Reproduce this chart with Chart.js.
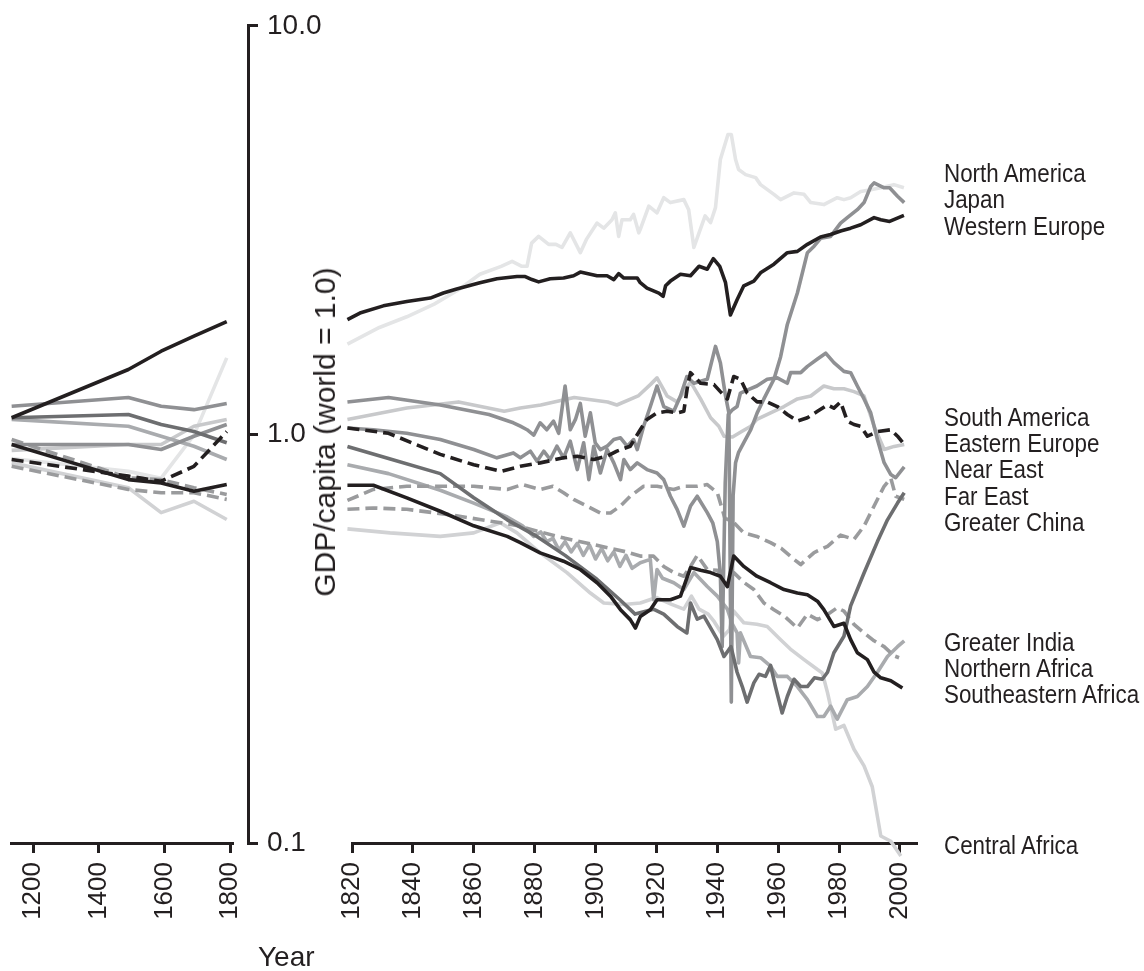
<!DOCTYPE html>
<html>
<head>
<meta charset="utf-8">
<script src="https://cdn.jsdelivr.net/npm/chart.js@4.4.1/dist/chart.umd.min.js"></script>
<style>
html,body{margin:0;padding:0;background:#ffffff;}
#wrap{position:relative;width:1144px;height:971px;overflow:hidden;background:#fff;}
#wrap canvas{position:absolute;left:0;top:0;}
.lab{position:absolute;left:944px;font-family:"Liberation Sans",Arial,sans-serif;font-size:26px;line-height:26px;color:#231f20;white-space:nowrap;transform-origin:0 50%;transform:scaleX(0.86);}
#ytitle{position:absolute;left:325px;top:432px;font-family:"Liberation Sans",Arial,sans-serif;font-size:30px;line-height:30px;color:#231f20;white-space:nowrap;transform:translate(-50%,-50%) rotate(-90deg);}
#xtitle{position:absolute;left:258px;top:943px;font-family:"Liberation Sans",Arial,sans-serif;font-size:28px;line-height:28px;color:#231f20;}
</style>
</head>
<body>
<div id="wrap">
  <canvas id="cLeft" width="1144" height="971"></canvas>
  <canvas id="cRight" width="1144" height="971"></canvas>
  <canvas id="cAxis" width="1144" height="971"></canvas>
  <div id="ytitle">GDP/capita (world = 1.0)</div>
  <div id="xtitle">Year</div>
</div>
<script>
// ---------- tick values ----------
const yTickValues = [0.1, 1, 10];
const earlyTickYears = [1200, 1400, 1600, 1800];
const modernTickYears = [1820, 1840, 1860, 1880, 1900, 1920, 1940, 1960, 1980, 2000];

// ---------- region labels (right side, top to bottom) ----------
const regionLabels = ["North America","Japan","Western Europe","South America","Eastern Europe","Near East","Far East","Greater China","Greater India","Northern Africa","Southeastern Africa","Central Africa"];

// ---------- early panel ----------
const earlyYears = [1134, 1490, 1590, 1690, 1790];
const westernEuropeEarly      = [1.08, 1.415, 1.567, 1.705, 1.85];
const northAmericaEarly       = [0.86, 0.80, 0.77, 0.98, 1.51];
const japanEarly              = [1.152, 1.21, 1.152, 1.13, 1.17];
const southAmericaEarly       = [0.90, 0.93, 0.93, 1.03, 1.07];
const easternEuropeEarly      = [0.855, 0.779, 0.757, 0.823, 1.0];
const nearEastEarly           = [0.93, 0.93, 0.904, 0.974, 1.04];
const farEastEarly            = [0.956, 0.772, 0.764, 0.73, 0.703];
const greaterChinaEarly       = [1.08, 1.10, 1.04, 1.0, 0.939];
const greaterIndiaEarly       = [1.07, 1.03, 0.974, 0.921, 0.855];
const northernAfricaEarly     = [0.93, 0.764, 0.75, 0.716, 0.743];
const southeasternAfricaEarly = [0.823, 0.723, 0.71, 0.71, 0.684];
const centralAfricaEarly      = [0.839, 0.73, 0.635, 0.677, 0.611];

// ---------- modern panel: [year, GDP per capita relative to world] ----------
const westernEurope = [[1818.5,1.87],[1822.6,1.94],[1830.3,2.02],[1838,2.07],[1845.7,2.11],[1850,2.17],[1854.4,2.22],[1862,2.30],[1867.6,2.35],[1874.2,2.38],[1876.9,2.38],[1879.1,2.34],[1881.3,2.31],[1885.1,2.35],[1889.5,2.36],[1892.8,2.39],[1895,2.44],[1897.2,2.42],[1900.5,2.39],[1903.8,2.39],[1906,2.34],[1907.6,2.42],[1909.3,2.36],[1913.7,2.36],[1914.7,2.30],[1916.9,2.23],[1920.8,2.17],[1922.2,2.13],[1923,2.26],[1924.6,2.32],[1927.9,2.41],[1931.2,2.39],[1934,2.52],[1936.7,2.48],[1938.7,2.63],[1940.8,2.52],[1942.7,2.30],[1944.3,1.92],[1946.5,2.09],[1948.7,2.26],[1952,2.32],[1954.2,2.43],[1958.6,2.55],[1963,2.72],[1966.3,2.74],[1969.6,2.85],[1973.9,2.97],[1977.2,3.01],[1980.5,3.07],[1983.8,3.12],[1987.1,3.18],[1991.5,3.31],[1993.7,3.27],[1996.6,3.24],[2001.3,3.35]];
const northAmerica = [[1818.5,1.63],[1829,1.79],[1838,1.90],[1847,2.04],[1855,2.21],[1862,2.41],[1869,2.52],[1872.6,2.59],[1875.8,2.52],[1877.5,2.52],[1879,2.87],[1881.3,2.98],[1884.6,2.85],[1887,2.85],[1889,2.80],[1891.7,3.04],[1895,2.72],[1897,2.93],[1900.5,3.21],[1902.7,3.12],[1905.4,3.27],[1906.5,3.40],[1907.6,2.98],[1908.7,3.27],[1911.4,3.27],[1912.5,3.37],[1914.2,3.04],[1914.7,3.10],[1917.5,3.53],[1920.2,3.40],[1922.4,3.70],[1924.6,3.60],[1929,3.66],[1930.6,3.46],[1932.3,2.80],[1934,3.04],[1936,3.34],[1937.8,3.22],[1939.4,3.50],[1941,4.58],[1943.5,5.27],[1944.6,5.27],[1946,4.58],[1947,4.33],[1949.3,4.21],[1952.6,4.14],[1954.2,3.98],[1958.6,3.77],[1960.8,3.66],[1965.2,3.80],[1968.5,3.77],[1970.7,3.60],[1975,3.56],[1979.4,3.70],[1981.6,3.66],[1983.8,3.70],[1987.1,3.83],[1990.4,3.87],[1993.7,3.91],[1998,3.98],[2001.3,3.91]];
const japan = [[1818.5,1.18],[1832,1.21],[1849,1.16],[1865,1.10],[1873,1.05],[1875.3,1.03],[1877.5,1.01],[1879.7,0.98],[1881.8,1.05],[1884,1.01],[1886.2,1.06],[1887.9,0.99],[1890,1.29],[1891.7,1.01],[1893.4,1.07],[1895,1.17],[1896.6,0.974],[1898.3,1.11],[1899.9,0.939],[1901.6,0.904],[1903.8,0.921],[1906,0.956],[1908.2,0.965],[1910.4,0.921],[1912.5,0.956],[1913.7,0.904],[1915.8,1.03],[1918,1.15],[1920.2,1.29],[1922.4,1.15],[1925.7,1.12],[1927.9,1.22],[1930,1.36],[1932.3,1.31],[1936.7,1.34],[1939.4,1.61],[1941,1.47],[1942.7,1.22],[1943.8,1.11],[1944.6,0.22],[1945.2,0.70],[1946,0.84],[1947,0.89],[1948.7,0.94],[1951,1.01],[1953.1,1.11],[1955.3,1.20],[1958.6,1.34],[1960.8,1.52],[1963,1.82],[1966.3,2.17],[1969.6,2.72],[1971.8,2.82],[1974,2.95],[1977.2,2.98],[1980.5,3.21],[1982.7,3.31],[1986,3.46],[1988.2,3.60],[1990.4,3.94],[1991.5,4.02],[1994.8,3.91],[1996.6,3.91],[1999.2,3.73],[2001.4,3.60]];
const southAmerica = [[1818.5,1.07],[1838,1.14],[1855,1.18],[1870,1.12],[1875.3,1.14],[1882,1.16],[1893,1.21],[1904,1.18],[1907,1.16],[1914,1.22],[1918,1.30],[1920.2,1.35],[1923.5,1.22],[1926.8,1.18],[1931.2,1.32],[1934.5,1.20],[1937.8,1.08],[1940.5,1.03],[1942.2,0.974],[1945,0.97],[1948,1.0],[1951,1.03],[1953,1.07],[1957.5,1.11],[1961.9,1.15],[1966.3,1.20],[1970.7,1.22],[1975,1.29],[1978.3,1.27],[1981.6,1.27],[1984.9,1.25],[1988.2,1.22],[1991.5,1.03],[1994.8,0.904],[1998.1,0.92],[2001.4,0.93]];
const easternEurope = [[1818.5,1.02],[1832,0.99],[1849,0.88],[1860,0.83],[1869,0.80],[1875.3,0.823],[1881.8,0.839],[1889.5,0.863],[1894,0.871],[1899.4,0.855],[1903.8,0.871],[1907,0.896],[1911.4,0.921],[1914.7,1.01],[1916.9,1.07],[1920.2,1.11],[1923.5,1.12],[1926.8,1.11],[1929,1.12],[1930.3,1.30],[1931.2,1.39],[1934.5,1.31],[1938.9,1.30],[1941,1.25],[1943.3,1.20],[1945.4,1.36],[1947.6,1.34],[1949.8,1.24],[1953.1,1.18],[1956.4,1.18],[1959.7,1.15],[1963,1.10],[1966.3,1.06],[1969.6,1.08],[1972.9,1.12],[1976.2,1.16],[1978.3,1.14],[1980.5,1.18],[1982.7,1.06],[1984.9,1.04],[1987.1,1.03],[1989.3,0.974],[1992.6,1.0],[1997,1.01],[1999.2,0.974],[2001.4,0.93]];
const nearEast = [[1818.5,1.02],[1827,1.01],[1838,0.99],[1849,0.956],[1860,0.904],[1867.6,0.863],[1873,0.887],[1875.3,0.863],[1878.6,0.896],[1880.8,0.847],[1883,0.896],[1885.1,0.855],[1887.3,0.921],[1889.5,0.863],[1891.7,0.947],[1894,0.808],[1896.1,0.939],[1897.8,0.764],[1899.4,0.921],[1901.6,0.793],[1903.8,0.904],[1906,0.839],[1908.2,0.764],[1909.3,0.855],[1911.4,0.808],[1913.7,0.839],[1916.9,0.808],[1920.2,0.793],[1922.4,0.764],[1924.6,0.696],[1926.8,0.647],[1929,0.589],[1931.2,0.659],[1933.4,0.696],[1936.7,0.635],[1938.5,0.60],[1940,0.54],[1941,0.45],[1941.6,0.30],[1942.6,0.75],[1943.6,1.10],[1945,1.13],[1946.5,1.15],[1947.6,1.24],[1949.8,1.26],[1953,1.29],[1956.4,1.34],[1959.7,1.35],[1963,1.31],[1964.1,1.39],[1967.4,1.39],[1969.6,1.44],[1972.9,1.50],[1975.6,1.55],[1978.3,1.47],[1981.6,1.40],[1983.8,1.39],[1986,1.29],[1988.2,1.20],[1990.4,1.11],[1992.6,0.956],[1994.8,0.84],[1997,0.786],[1998.6,0.772],[2001.4,0.82]];
const farEast = [[1818.5,0.68],[1827,0.723],[1838,0.736],[1860,0.736],[1871,0.723],[1876,0.743],[1881.8,0.723],[1886,0.736],[1889.5,0.71],[1892.8,0.684],[1897.2,0.659],[1901.6,0.634],[1904.9,0.634],[1908.2,0.659],[1911.4,0.696],[1915.8,0.736],[1920.2,0.736],[1925.7,0.723],[1929,0.736],[1933.4,0.736],[1936.7,0.743],[1940,0.71],[1942.5,0.615],[1945,0.605],[1948.7,0.567],[1953,0.556],[1957.5,0.537],[1961,0.52],[1965.2,0.489],[1967.4,0.475],[1971.8,0.508],[1976.2,0.526],[1980.5,0.56],[1984.9,0.547],[1988.2,0.589],[1991.5,0.659],[1994.8,0.736],[1997,0.77],[1998.6,0.696],[2001.4,0.684]];
const greaterChina = [[1818.5,0.92],[1832,0.86],[1849,0.79],[1860,0.69],[1871,0.61],[1880,0.56],[1890,0.50],[1900,0.44],[1908,0.39],[1913,0.36],[1919,0.37],[1922.4,0.36],[1926.8,0.336],[1930,0.324],[1931.2,0.383],[1933.4,0.35],[1935.6,0.356],[1940,0.312],[1942.2,0.284],[1944.5,0.30],[1946.5,0.26],[1948.2,0.24],[1949.8,0.22],[1952,0.245],[1953.7,0.257],[1955.8,0.254],[1957.5,0.27],[1959.1,0.24],[1961.3,0.207],[1963,0.227],[1965.2,0.25],[1967.4,0.24],[1969.6,0.24],[1971.9,0.252],[1974.5,0.25],[1976.2,0.26],[1978.3,0.29],[1981.6,0.318],[1983.8,0.377],[1988.2,0.453],[1992.6,0.54],[1995.9,0.61],[1999.2,0.67],[2001.4,0.71]];
const greaterIndia = [[1818.5,0.83],[1832,0.79],[1849,0.72],[1860,0.67],[1871,0.62],[1876,0.59],[1879.7,0.556],[1882,0.57],[1884,0.54],[1886,0.55],[1888,0.515],[1890,0.54],[1892,0.51],[1894,0.535],[1896,0.50],[1898,0.53],[1900,0.49],[1902,0.52],[1904,0.485],[1906,0.51],[1908,0.47],[1910,0.50],[1912,0.465],[1914.7,0.48],[1918,0.489],[1919.1,0.39],[1920.2,0.462],[1922,0.44],[1925.7,0.429],[1929,0.413],[1932.3,0.454],[1936.7,0.42],[1940,0.398],[1943.3,0.37],[1945,0.34],[1946.5,0.324],[1947,0.274],[1947.6,0.324],[1950.9,0.284],[1954.2,0.282],[1957.5,0.269],[1959.7,0.254],[1963,0.254],[1966.3,0.24],[1969.6,0.223],[1972.9,0.203],[1975,0.203],[1977.2,0.215],[1979.4,0.20],[1982.7,0.223],[1986,0.227],[1989.3,0.24],[1992.6,0.26],[1995.9,0.284],[1999.2,0.30],[2001.4,0.31]];
const northernAfrica = [[1818.5,0.74],[1827,0.74],[1838,0.69],[1849,0.64],[1860,0.59],[1871,0.556],[1875.3,0.537],[1881.8,0.507],[1889.5,0.484],[1895,0.462],[1900.5,0.429],[1904.9,0.398],[1908.2,0.369],[1911.4,0.349],[1913.1,0.333],[1914.7,0.355],[1918,0.369],[1920.2,0.39],[1924.6,0.39],[1927.9,0.398],[1931.2,0.467],[1934.5,0.46],[1937.8,0.454],[1941,0.445],[1943.3,0.42],[1945.4,0.498],[1948.7,0.47],[1953,0.445],[1957.5,0.429],[1961.9,0.413],[1966.3,0.405],[1969.6,0.401],[1972.9,0.387],[1975,0.369],[1978.3,0.336],[1981.6,0.342],[1983.8,0.312],[1986,0.29],[1989.3,0.279],[1991.5,0.26],[1993.7,0.252],[1997,0.248],[2000.8,0.238]];
const southeasternAfrica = [[1818.5,0.647],[1827,0.652],[1838,0.647],[1852,0.628],[1862,0.611],[1869,0.60],[1875,0.589],[1880,0.575],[1890,0.55],[1900,0.53],[1910,0.51],[1914.7,0.498],[1919,0.498],[1922.4,0.47],[1925.7,0.454],[1929,0.445],[1931.2,0.47],[1933.4,0.50],[1936.7,0.462],[1940,0.46],[1943.3,0.42],[1945.4,0.454],[1948.7,0.43],[1952,0.413],[1955.3,0.383],[1958.6,0.369],[1962,0.356],[1966.3,0.333],[1969.6,0.36],[1972.9,0.349],[1976.2,0.359],[1979.4,0.373],[1981.6,0.366],[1984.9,0.34],[1988.2,0.324],[1991.5,0.31],[1994.8,0.30],[1998.1,0.285],[1999.7,0.282]];
const centralAfrica = [[1818.5,0.58],[1832.5,0.567],[1849,0.556],[1860,0.567],[1868.7,0.60],[1874.2,0.567],[1881.8,0.507],[1890.6,0.454],[1898.3,0.405],[1902.7,0.383],[1909.3,0.38],[1914.7,0.383],[1920,0.395],[1925,0.38],[1929,0.37],[1931.5,0.398],[1934,0.37],[1937,0.36],[1939,0.345],[1942,0.318],[1944,0.33],[1945.4,0.366],[1948.7,0.343],[1953,0.34],[1956.4,0.336],[1960.8,0.312],[1964,0.296],[1968.5,0.279],[1972.9,0.264],[1974.5,0.259],[1976.2,0.232],[1978.9,0.189],[1981.6,0.193],[1984.9,0.169],[1988.2,0.154],[1990.9,0.137],[1992,0.123],[1993.7,0.104],[1997,0.101],[2000.3,0.093]];

// ---------- styles ----------
const INK = '#231f20';
const FONT = '"Liberation Sans", Arial, sans-serif';
const styles = {
  westernEurope:      {color: INK,       dash: []},
  northernAfrica:     {color: INK,       dash: []},
  easternEurope:      {color: INK,       dash: [12, 6]},
  greaterChina:       {color: '#6d6e70', dash: []},
  japan:              {color: '#8f9093', dash: []},
  nearEast:           {color: '#8f9093', dash: []},
  farEast:            {color: '#9a9b9d', dash: [12, 6]},
  southeasternAfrica: {color: '#9a9b9d', dash: [12, 6]},
  greaterIndia:       {color: '#a9abae', dash: []},
  southAmerica:       {color: '#c8c9cb', dash: []},
  centralAfrica:      {color: '#d1d2d4', dash: []},
  northAmerica:       {color: '#e4e5e6', dash: []}
};
// first = drawn on top
const order = ['westernEurope','northernAfrica','easternEurope','greaterChina','japan','nearEast','farEast','southeasternAfrica','greaterIndia','southAmerica','centralAfrica','northAmerica'];
const modernData = {westernEurope, northAmerica, japan, southAmerica, easternEurope, nearEast, farEast, greaterChina, greaterIndia, northernAfrica, southeasternAfrica, centralAfrica};
const earlyData = {westernEurope: westernEuropeEarly, northAmerica: northAmericaEarly, japan: japanEarly, southAmerica: southAmericaEarly, easternEurope: easternEuropeEarly, nearEast: nearEastEarly, farEast: farEastEarly, greaterChina: greaterChinaEarly, greaterIndia: greaterIndiaEarly, northernAfrica: northernAfricaEarly, southeasternAfrica: southeasternAfricaEarly, centralAfrica: centralAfricaEarly};

function ds(name, points) {
  const s = styles[name];
  return {label: name, data: points, borderColor: s.color, borderDash: s.dash, borderWidth: 3.6,
          pointRadius: 0, tension: 0, fill: false, clip: false, borderJoinStyle: 'round', borderCapStyle: 'butt'};
}

const axisGrid = {display: true, drawOnChartArea: false, drawTicks: true, tickLength: 10, color: INK, lineWidth: 3};
const axisBorder = {display: true, color: INK, width: 3};
const tickFont = {family: FONT, size: 26};
const yTickFont = {family: FONT, size: 28};
const common = {responsive: false, animation: false, devicePixelRatio: 1,
  plugins: {legend: {display: false}, tooltip: {enabled: false}, title: {display: false}},
  events: []};

function xAxis(min, max, tickYears) {
  return {type: 'linear', position: 'bottom', min, max,
    afterBuildTicks: s => { s.ticks = tickYears.map(v => ({value: v})); },
    afterFit: s => { s.height = 128; },
    border: axisBorder, grid: axisGrid,
    ticks: {autoSkip: false, minRotation: 90, maxRotation: 90, padding: 9, font: tickFont, color: INK,
            callback: v => String(v)}};
}
const hiddenY = {type: 'logarithmic', min: 0.1, max: 10, display: false};

// left panel (before 1820)
new Chart(document.getElementById('cLeft'), {
  type: 'line',
  data: {datasets: order.map(n => ds(n, earlyYears.map((yr, i) => ({x: yr, y: earlyData[n][i]}))))},
  options: Object.assign({}, common, {
    layout: {padding: {left: 11, right: 1144 - 232.3, top: 20, bottom: 0}},
    scales: {x: xAxis(1132, 1807, earlyTickYears), y: hiddenY}
  })
});

// right panel (1820 onward)
new Chart(document.getElementById('cRight'), {
  type: 'line',
  data: {datasets: order.map(n => ds(n, modernData[n].map(p => ({x: p[0], y: p[1]}))))},
  options: Object.assign({}, common, {
    layout: {padding: {left: 352, right: 1144 - 916.7, top: 20, bottom: 0}},
    scales: {x: xAxis(1820, 2005.5, modernTickYears), y: hiddenY}
  })
});

// shared logarithmic y axis between the panels
new Chart(document.getElementById('cAxis'), {
  type: 'line',
  data: {datasets: []},
  options: Object.assign({}, common, {
    layout: {padding: {left: 150, right: 796, top: 20, bottom: 128}},
    scales: {
      x: {type: 'linear', min: 0, max: 1, display: false},
      y: {type: 'logarithmic', position: 'right', min: 0.1, max: 10,
          afterBuildTicks: s => { s.ticks = yTickValues.map(v => ({value: v})); },
          afterFit: s => { s.width = 100; },
          border: axisBorder, grid: axisGrid,
          ticks: {padding: 9, font: yTickFont, color: INK, callback: v => Number(v).toFixed(1)}}
    }
  })
});

// region labels
const labelCenters = [173, 199, 226, 417, 443, 469, 496, 522, 642, 668, 694, 845];
const wrap = document.getElementById('wrap');
regionLabels.forEach((t, i) => {
  const d = document.createElement('div');
  d.className = 'lab';
  d.textContent = t;
  d.style.top = (labelCenters[i] - 13) + 'px';
  wrap.appendChild(d);
});
</script>
</body>
</html>
